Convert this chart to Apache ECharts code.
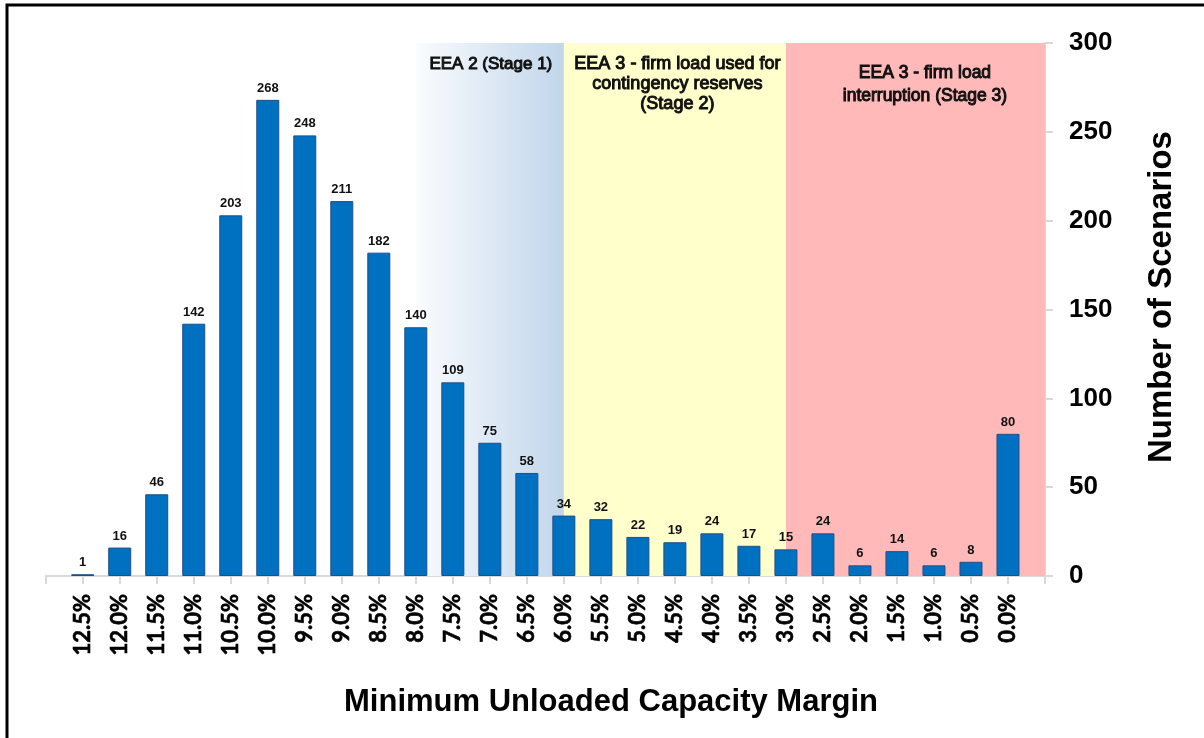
<!DOCTYPE html>
<html>
<head>
<meta charset="utf-8">
<script src="https://cdn.jsdelivr.net/npm/echarts@6/dist/echarts.min.js"></script>
<style>
  html, body { margin: 0; padding: 0; background: #fff; }
  #chart { width: 1204px; height: 738px; }
</style>
</head>
<body>
<div id="chart"></div>
<script>
// Minimum unloaded capacity margin buckets, highest margin first
const margins = ['12.5%', '12.0%', '11.5%', '11.0%', '10.5%', '10.0%', '9.5%', '9.0%', '8.5%',
  '8.0%', '7.5%', '7.0%', '6.5%', '6.0%', '5.5%', '5.0%', '4.5%', '4.0%', '3.5%', '3.0%',
  '2.5%', '2.0%', '1.5%', '1.0%', '0.5%', '0.0%'];
// Number of scenarios falling in each bucket
const scenarios = [1, 16, 46, 142, 203, 268, 248, 211, 182, 140, 109, 75, 58, 34, 32, 22,
  19, 24, 17, 15, 24, 6, 14, 6, 8, 80];
// Scenario-count axis ticks
const yTicks = [0, 50, 100, 150, 200, 250, 300];
// Emergency stages: [from bucket, to bucket (null = axis end), caption]
const stages = [
  ['8.0%', '6.0%', 'EEA 2 (Stage 1)'],
  ['6.0%', '3.0%', 'EEA 3 - firm load used for\ncontingency reserves\n(Stage 2)'],
  ['3.0%', null, 'EEA 3 - firm load\ninterruption (Stage 3)']
];

// Pad one empty slot on each side so the buckets sit one step in from the axis ends
const cats = [''].concat(margins, [' ']);
const vals = [null].concat(scenarios, [null]);
const idx = m => (m === null ? cats.length - 1 : cats.indexOf(m));

const arial = "'Liberation Sans', Arial, sans-serif";

// Fill and caption styling for each stage band
const stageStyles = [
  { color: new echarts.graphic.LinearGradient(0, 0, 1, 0, [
      { offset: 0, color: '#fafcfe' }, { offset: 1, color: '#b3cce6' }]),
    fontSize: 17, lineHeight: 20, top: 54.5, dx: 1 },
  { color: '#ffffcc', fontSize: 18, lineHeight: 20, top: 54.5, dx: 2.5 },
  { color: '#ffb9b9', fontSize: 17.5, lineHeight: 23.5, top: 61, dx: 9.5 }
];

const areas = stages.map((s, i) => [
  { xAxis: idx(s[0]), itemStyle: { color: stageStyles[i].color } },
  { xAxis: idx(s[1]) }
]);

const frameAndTitles = [
  {
    type: 'rect', silent: true, z: 100,
    shape: { x: 7, y: 5, width: 1400, height: 900 },
    style: { fill: 'none', stroke: '#000', lineWidth: 3 }
  },
  {
    type: 'text', x: 611, y: 702, z: 100,
    style: {
      text: 'Minimum Unloaded Capacity Margin', align: 'center', verticalAlign: 'middle',
      fontSize: 31, fontWeight: 'bold', fontFamily: arial, fill: '#000'
    }
  },
  {
    type: 'text', x: 1162, y: 297, rotation: Math.PI / 2, z: 100,
    style: {
      text: 'Number of Scenarios', align: 'center', verticalAlign: 'middle',
      fontSize: 33, fontWeight: 'bold', fontFamily: arial, fill: '#000'
    }
  }
];

const chart = echarts.init(document.getElementById('chart'));
chart.setOption({
  animation: false,
  backgroundColor: '#fff',
  grid: { left: 45.7, right: 159, top: 43, bottom: 162, containLabel: false },
  xAxis: {
    type: 'category',
    data: cats,
    boundaryGap: false,
    axisLine: { lineStyle: { color: '#d9d9d9', width: 2 } },
    axisTick: { show: true, interval: 0, length: 8, lineStyle: { color: '#d9d9d9', width: 2 } },
    axisLabel: {
      interval: 0, rotate: 90, margin: 18, color: '#000',
      fontSize: 22, fontWeight: 'bold', fontFamily: 'Lato, sans-serif',
      textBorderColor: '#000', textBorderWidth: 0.6
    },
    splitLine: { show: false }
  },
  yAxis: {
    type: 'value',
    position: 'right',
    min: yTicks[0], max: yTicks[yTicks.length - 1], interval: yTicks[1] - yTicks[0],
    axisLine: { show: true, lineStyle: { color: '#d9d9d9', width: 2 } },
    axisTick: { show: true, length: 8, lineStyle: { color: '#d9d9d9', width: 2 } },
    axisLabel: { margin: 24, color: '#000', fontSize: 26, fontWeight: 'bold', fontFamily: arial },
    splitLine: { show: false }
  },
  series: [{
    type: 'bar',
    data: vals,
    barWidth: 23,
    itemStyle: { color: '#0070c0', borderColor: '#1f4e8c', borderWidth: 1 },
    label: {
      show: true, position: 'top', distance: 5, color: '#111',
      fontSize: 13, fontWeight: 'bold', fontFamily: arial
    },
    markArea: { silent: true, data: areas }
  }],
  graphic: frameAndTitles
});

// Stage captions, centred over their bands using the category axis positions
const captions = stages.map((s, i) => {
  const st = stageStyles[i];
  const x0 = chart.convertToPixel({ xAxisIndex: 0 }, idx(s[0]));
  const x1 = chart.convertToPixel({ xAxisIndex: 0 }, idx(s[1]));
  return {
    type: 'text', z: 50, silent: true,
    x: (x0 + x1) / 2 + st.dx, y: st.top,
    style: {
      text: s[2], align: 'center', verticalAlign: 'top',
      fontSize: st.fontSize, lineHeight: st.lineHeight, fontFamily: arial,
      fill: '#111', stroke: '#111', lineWidth: 1
    }
  };
});
chart.setOption({ graphic: frameAndTitles.concat(captions) });
</script>
</body>
</html>
